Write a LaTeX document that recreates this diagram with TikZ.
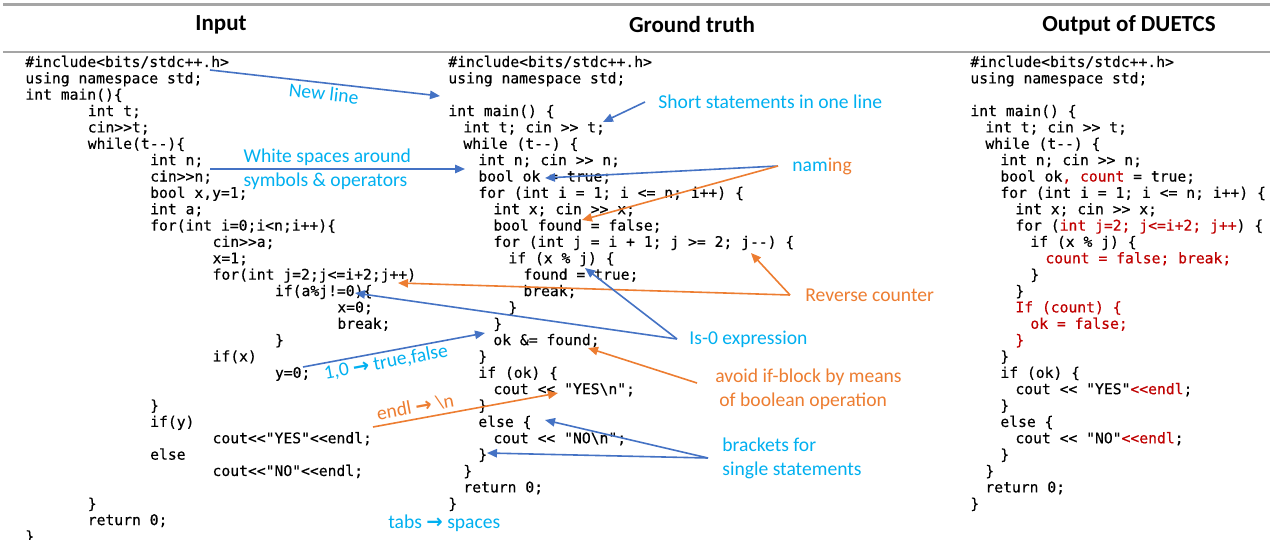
\documentclass[tikz,border=0pt]{standalone}
\usepackage{fontspec}
\setmainfont{Carlito}
\setmonofont[FakeBold=0.35]{DejaVu Sans Mono}
\newfontfamily\arrowfont{DejaVu Sans}
\usetikzlibrary{arrows.meta}

\definecolor{noteblue}{RGB}{0,176,240}
\definecolor{noteorange}{RGB}{237,125,49}
\definecolor{arrowblue}{RGB}{68,114,196}
\definecolor{codered}{RGB}{192,0,0}
\definecolor{rulegray}{RGB}{165,165,165}

% indentation: tabs in the raw input, small steps in the formatted code
\newlength\tabw \setlength\tabw{31.2pt}
\newlength\stepw \setlength\stepw{7.5pt}
\newcommand\tabin[1]{\hspace*{#1\tabw}}
\newcommand\lvl[1]{\hspace*{#1\stepw}}
\newcommand\rarr{{\arrowfont\bfseries\char"2192}}
\newcommand\chg[1]{\textcolor{codered}{#1}}

\tikzset{
	code/.style={font=\fontsize{7.35}{8.18}\selectfont\ttfamily,inner sep=0pt,anchor=base west},
	title/.style={font=\fontsize{11.5}{13}\selectfont\bfseries},
	note/.style={font=\fontsize{9.8}{12}\selectfont,inner sep=0pt,anchor=west,align=left},
	blue note/.style={note,text=noteblue},
	orange note/.style={note,text=noteorange},
	blue arrow/.style={draw=arrowblue,line width=0.8pt,-{Triangle[length=5pt,width=4.2pt]}},
	orange arrow/.style={draw=noteorange,line width=0.8pt,-{Triangle[length=5pt,width=4.2pt]}}
}

\begin{document}
\begin{tikzpicture}[x=0.5pt,y=-0.5pt]
	\useasboundingbox (0,0) rectangle (1270,540);
	\fill[white] (0,0) rectangle (1270,540);

	% header
	\draw[rulegray,line width=1.5pt] (3,5) -- (1270,5);
	\draw[rulegray,line width=1pt] (3,52) -- (1270,52);
	\node[title] (hin) at (221,25) {Input};
	\node[title] (hgt) at (692,25) {Ground truth};
	\node[title] (hout) at (1129,25) {Output of DUETCS};

	% the three programs
	\node[code] (inp) at (25,67) {\begin{tabular}[t]{@{}l@{}}
		\#include<bits/stdc++.h>\\
		using namespace std;\\
		int main()\{\\
		\tabin{1}int t;\\
		\tabin{1}cin>>t;\\
		\tabin{1}while(t--)\{\\
		\tabin{2}int n;\\
		\tabin{2}cin>>n;\\
		\tabin{2}bool x,y=1;\\
		\tabin{2}int a;\\
		\tabin{2}for(int i=0;i<n;i++)\{\\
		\tabin{3}cin>>a;\\
		\tabin{3}x=1;\\
		\tabin{3}for(int j=2;j<=i+2;j++)\\
		\tabin{4}if(a\%j!=0)\{\\
		\tabin{5}x=0;\\
		\tabin{5}break;\\
		\tabin{4}\}\\
		\tabin{3}if(x)\\
		\tabin{4}y=0;\\
		\\
		\tabin{2}\}\\
		\tabin{2}if(y)\\
		\tabin{3}cout<<"YES"<<endl;\\
		\tabin{2}else\\
		\tabin{3}cout<<"NO"<<endl;\\
		\\
		\tabin{1}\}\\
		\tabin{1}return 0;\\
		\}
	\end{tabular}};

	\node[code] (gt) at (448,67) {\begin{tabular}[t]{@{}l@{}}
		\#include<bits/stdc++.h>\\
		using namespace std;\\
		\\
		int main() \{\\
		\lvl{1}int t; cin >> t;\\
		\lvl{1}while (t--) \{\\
		\lvl{2}int n; cin >> n;\\
		\lvl{2}bool ok = true;\\
		\lvl{2}for (int i = 1; i <= n; i++) \{\\
		\lvl{3}int x; cin >> x;\\
		\lvl{3}bool found = false;\\
		\lvl{3}for (int j = i + 1; j >= 2; j--) \{\\
		\lvl{4}if (x \% j) \{\\
		\lvl{5}found = true;\\
		\lvl{5}break;\\
		\lvl{4}\}\\
		\lvl{3}\}\\
		\lvl{3}ok \&= found;\\
		\lvl{2}\}\\
		\lvl{2}if (ok) \{\\
		\lvl{3}cout << "YES\textbackslash n";\\
		\lvl{2}\}\\
		\lvl{2}else \{\\
		\lvl{3}cout << "NO\textbackslash n";\\
		\lvl{2}\}\\
		\lvl{1}\}\\
		\lvl{1}return 0;\\
		\}
	\end{tabular}};

	\node[code] (out) at (970,67) {\begin{tabular}[t]{@{}l@{}}
		\#include<bits/stdc++.h>\\
		using namespace std;\\
		\\
		int main() \{\\
		\lvl{1}int t; cin >> t;\\
		\lvl{1}while (t--) \{\\
		\lvl{2}int n; cin >> n;\\
		\lvl{2}bool ok\chg{, count} = true;\\
		\lvl{2}for (int i = 1; i <= n; i++) \{\\
		\lvl{3}int x; cin >> x;\\
		\lvl{3}for (\chg{int j=2; j<=i+2; j++}) \{\\
		\lvl{4}if (x \% j) \{\\
		\lvl{5}\chg{count = false; break;}\\
		\lvl{4}\}\\
		\lvl{3}\}\\
		\lvl{3}\chg{If (count) \{}\\
		\lvl{4}\chg{ok = false;}\\
		\lvl{3}\chg{\}}\\
		\lvl{2}\}\\
		\lvl{2}if (ok) \{\\
		\lvl{3}cout << "YES"\chg{<<endl};\\
		\lvl{2}\}\\
		\lvl{2}else \{\\
		\lvl{3}cout << "NO"\chg{<<endl};\\
		\lvl{2}\}\\
		\lvl{1}\}\\
		\lvl{1}return 0;\\
		\}
	\end{tabular}};

	% spots in the code that the arrows start from or point at
	\coordinate (in-include) at (210,70);
	\coordinate (in-n) at (210,169);
	\coordinate (in-y) at (303,367);
	\coordinate (in-cout) at (373,427);
	\coordinate (in-jinc) at (398,283);
	\coordinate (in-amodj) at (355,293);
	\coordinate (gt-blank) at (440,96);
	\coordinate (gt-bool) at (465,169);
	\coordinate (gt-t) at (603,122);
	\coordinate (gt-ok) at (545,178);
	\coordinate (gt-found) at (582,220);
	\coordinate (gt-jdec) at (751,253);
	\coordinate (gt-xmodj) at (585,268);
	\coordinate (gt-okand) at (485,333);
	\coordinate (gt-andsemi) at (588,348);
	\coordinate (gt-yes) at (558,393);
	\coordinate (gt-else) at (545,420);
	\coordinate (gt-close) at (487,453);

	% notes
	\node[blue note] (short) at (658,102) {Short statements in one line};
	\node[note] (naming) at (792,166) {\textcolor{noteblue}{nam}\textcolor{noteorange}{ing}};
	\node[orange note] (reverse) at (805,295) {Reverse counter};
	\node[blue note] (iszero) at (689,339) {Is-0 expression};
	\node[orange note] (avoid) at (715,389) {avoid if-block by means\\\hspace*{2pt}of boolean operation};
	\node[blue note] (brackets) at (722,458) {brackets for\\single statements};
	\node[blue note] (tabs) at (388,523) {tabs \rarr{} spaces};

	% arrows
	\draw[blue arrow] (in-include) -- node[blue note,sloped,anchor=north,pos=.5,inner sep=1.5pt] (newline) {New line} (gt-blank);
	\draw[blue arrow] (in-n) -- node[blue note,anchor=center,pos=.46] (spaces) {White spaces around\\symbols \& operators} (gt-bool);
	\draw[blue arrow] ([xshift=-6.5pt]short.west) -- (gt-t);
	\draw[blue arrow] ([xshift=-7pt]naming.west) -- (gt-ok);
	\draw[orange arrow] ([xshift=-7pt]naming.west) -- (gt-found);
	\draw[orange arrow] ([xshift=-7.5pt]reverse.west) -- (gt-jdec);
	\draw[orange arrow] ([xshift=-7.5pt]reverse.west) -- (in-jinc);
	\draw[blue arrow] ([xshift=-6pt]iszero.west) -- (gt-xmodj);
	\draw[blue arrow] ([xshift=-6pt]iszero.west) -- (in-amodj);
	\draw[blue arrow] (in-y) -- node[blue note,sloped,anchor=north,pos=.445,inner sep=1pt] (boolnote) {1,0 \rarr{} true,false} (gt-okand);
	\draw[orange arrow] (in-cout) -- node[orange note,sloped,anchor=south,pos=.24,inner sep=2pt] (endlnote) {endl \rarr{} \textbackslash n} (gt-yes);
	\draw[orange arrow] ([xshift=-9pt,yshift=3pt]avoid.west) -- (gt-andsemi);
	\draw[blue arrow] ([xshift=-7pt]brackets.west) -- (gt-else);
	\draw[blue arrow] ([xshift=-7pt]brackets.west) -- (gt-close);
\end{tikzpicture}
\end{document}
